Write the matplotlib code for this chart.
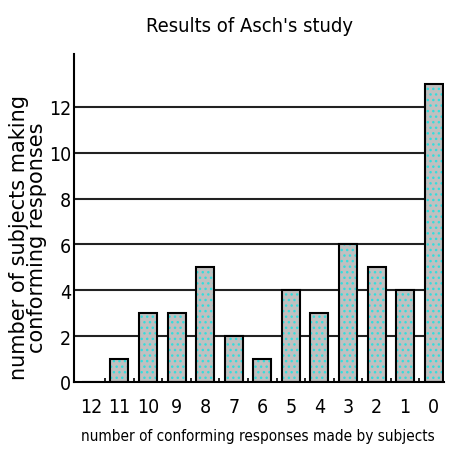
import numpy as np
import matplotlib
matplotlib.use("Agg")
from matplotlib import pyplot as plt

# Daten
responses = ["12", "11", "10", "9", "8", "7", "6", "5", "4", "3", "2", "1", "0"]
subjects = [0, 1, 3, 3, 5, 2, 1, 4, 3, 6, 5, 4, 13]

narrow = dict(family="DejaVu Sans", stretch="condensed")
plt.rcParams["hatch.linewidth"] = 1.0

fig = plt.figure(figsize=(4.54, 4.52), dpi=100)
ax = fig.add_axes([0.163, 0.153, 0.815, 0.725])

x = np.arange(len(responses))
ax.hlines(range(2, 13, 2), -0.6, 12, color="#222222", lw=1.5, zorder=1)
# Füllung mit türkisen Punkten, danach schwarzer Rand
ax.bar(x, subjects, width=0.63, color="#c0c0c0", edgecolor="#33dddd",
       linewidth=0, hatch="...", zorder=2)
ax.bar(x, subjects, width=0.63, fill=False, edgecolor="black",
       linewidth=1.5, zorder=3)

ax.set_xlim(-0.59, 12.36)
ax.set_ylim(0, 14.3)
ax.set_xticks(x)
ax.set_xticklabels(responses, fontsize=14, **narrow)
ax.set_xticks(x[:-1] + 0.5, minor=True)
ax.set_yticks(range(0, 13, 2))
ax.set_yticklabels([str(v) for v in range(0, 13, 2)], fontsize=14, **narrow)
ax.tick_params(length=0, pad=2)
ax.tick_params(axis="x", which="major", pad=11)
ax.tick_params(axis="x", which="minor", direction="in", length=3, width=1.2)

for s in ["top", "right"]:
    ax.spines[s].set_visible(False)
ax.spines["left"].set_linewidth(1.5)
ax.spines["bottom"].set_linewidth(1.5)

fig.text(250 / 454, 1 - 26 / 452, "Results of Asch's study", fontsize=14.5,
         ha="center", va="center", **narrow)
fig.text(258 / 454, 1 - 437 / 452, "number of conforming responses made by subjects",
         fontsize=11, ha="center", va="center", **narrow)
fig.text(28 / 454, 1 - 238 / 452, "number of subjects making\nconforming responses",
         family="DejaVu Sans", fontsize=15, rotation=90, linespacing=0.82,
         ha="center", va="center", multialignment="center")

fig.savefig("out.png", dpi=100)
